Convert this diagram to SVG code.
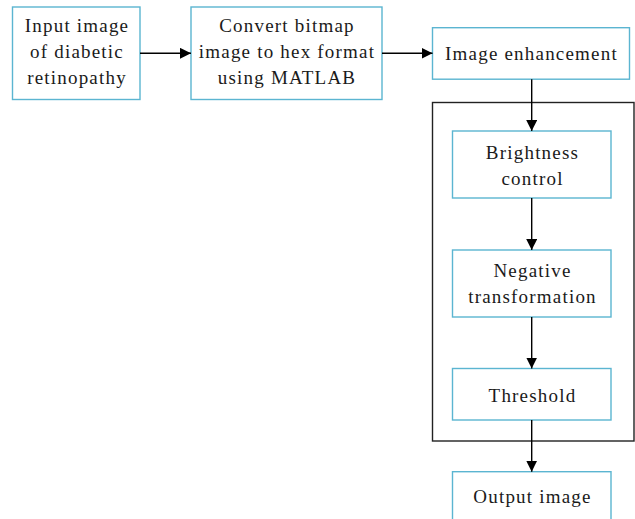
<svg xmlns="http://www.w3.org/2000/svg" width="635" height="519" viewBox="0 0 635 519">
<style>
.box{fill:#fff;stroke:#5bb5d1;stroke-width:1.4}
.frame{fill:none;stroke:#222;stroke-width:1.4}
.t{font-family:"Liberation Serif","Times New Roman",serif;font-size:19px;letter-spacing:1.2px;fill:#1a1a1a;text-anchor:middle}
.c{stroke:#000;stroke-width:1.4;fill:none;marker-end:url(#ah)}
</style>
<defs>
<marker id="ah" markerUnits="userSpaceOnUse" markerWidth="11" markerHeight="11" refX="11" refY="5.5" orient="auto">
<path d="M0,0 L11,5.5 L0,11 z" fill="#000"/>
</marker>
</defs>
<rect class="frame" x="432.5" y="102.5" width="201.5" height="338.5"/>
<g id="n1">
<rect class="box" x="12.5" y="7" width="127.5" height="92.5"/>
<text class="t" x="77" y="32">Input image</text>
<text class="t" x="77" y="58">of diabetic</text>
<text class="t" x="77" y="83.5">retinopathy</text>
</g>
<g id="n2">
<rect class="box" x="191" y="7" width="191" height="92.5"/>
<text class="t" x="287" y="32">Convert bitmap</text>
<text class="t" x="287" y="58">image to hex format</text>
<text class="t" x="287" y="83.5">using MATLAB</text>
</g>
<g id="n3">
<rect class="box" x="432.5" y="27.7" width="197" height="51.5"/>
<text class="t" x="531.5" y="60">Image enhancement</text>
</g>
<g id="n4">
<rect class="box" x="452.5" y="131" width="158.5" height="67"/>
<text class="t" x="532.5" y="159">Brightness</text>
<text class="t" x="532.5" y="184.5">control</text>
</g>
<g id="n5">
<rect class="box" x="452.5" y="250" width="158.5" height="67"/>
<text class="t" x="532.5" y="277">Negative</text>
<text class="t" x="532.5" y="302.5">transformation</text>
</g>
<g id="n6">
<rect class="box" x="452.5" y="368.5" width="158.5" height="51.5"/>
<text class="t" x="532.5" y="401.5">Threshold</text>
</g>
<g id="n7">
<rect class="box" x="452.5" y="471.7" width="158.5" height="60"/>
<text class="t" x="532.5" y="502.5">Output image</text>
</g>
<g id="connectors">
<line class="c" x1="140" y1="53.3" x2="191" y2="53.3"/>
<line class="c" x1="382" y1="53.3" x2="432.5" y2="53.3"/>
<line class="c" x1="531.7" y1="79.2" x2="531.7" y2="131"/>
<line class="c" x1="531.7" y1="198" x2="531.7" y2="250"/>
<line class="c" x1="531.7" y1="317" x2="531.7" y2="368.5"/>
<line class="c" x1="531.7" y1="420" x2="531.7" y2="471.7"/>
</g>
</svg>
